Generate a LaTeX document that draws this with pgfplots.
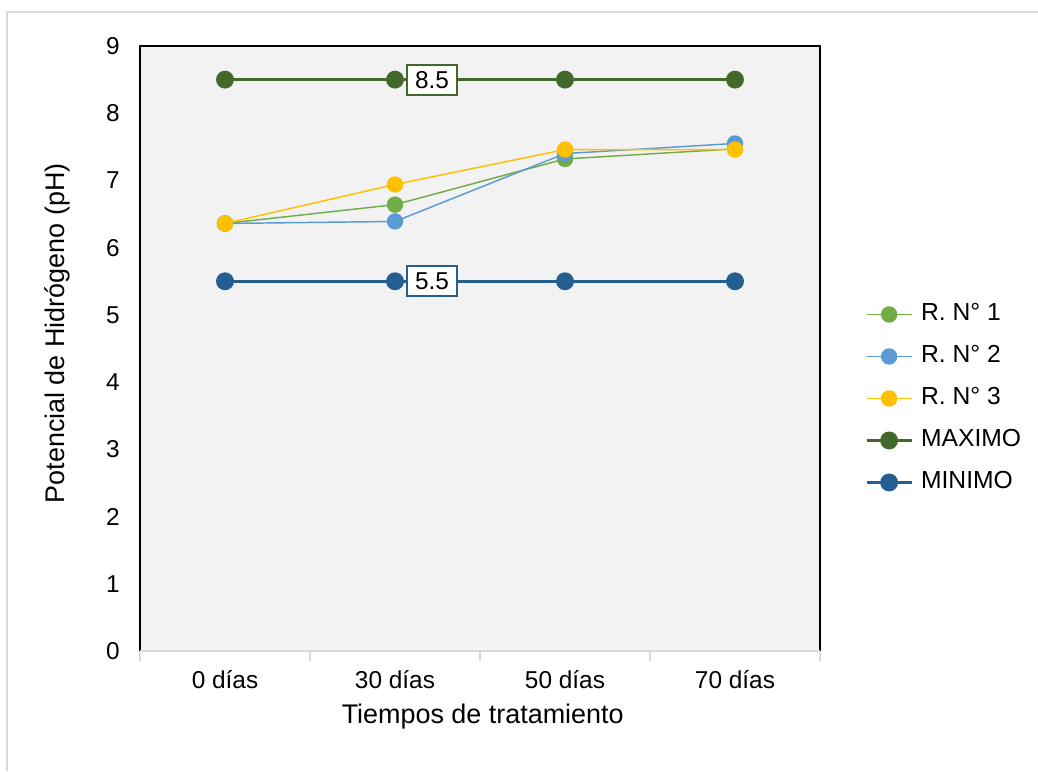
\documentclass[border=0pt]{standalone}
\usepackage{fontspec}
\setmainfont{Liberation Sans}
\usepackage{pgfplots}
\pgfplotsset{compat=1.18}

\definecolor{plotbg}{HTML}{F2F2F2}
\definecolor{axisgray}{HTML}{D9D9D9}
\definecolor{framegray}{HTML}{D9D9D9}
\definecolor{rone}{HTML}{70AD47}
\definecolor{rtwo}{HTML}{5B9BD5}
\definecolor{rthree}{HTML}{FFC000}
\definecolor{maxcol}{HTML}{43682B}
\definecolor{mincol}{HTML}{255E91}

\begin{document}
\begin{tikzpicture}
\path[use as bounding box] (0,0) rectangle (778.5pt,-578.25pt);
\draw[color=framegray, line width=1.3pt] (5.25pt,-578.25pt) -- (5.25pt,-9pt) -- (778.5pt,-9pt);
\begin{axis}[
  at={(105pt,-488.25pt)}, anchor=south west,
  scale only axis, width=510pt, height=453.75pt,
  clip=false,
  xmin=-0.5, xmax=3.5, ymin=0, ymax=9,
  xtick={0,1,2,3},
  xticklabels={0 días,30 días,50 días,70 días},
  ytick={0,1,...,9},
  major tick length=0pt,
  tick pos=left,
  extra x ticks={-0.5,0.5,1.5,2.5,3.5},
  extra x tick labels={},
  extra x tick style={major tick length=7.5pt, tick align=outside,
    tick style={draw=axisgray, line width=1pt}},
  axis line style={draw=none},
  axis background/.style={fill=plotbg},
  /pgf/number format/assume math mode=true,
  tick label style={font=\fontsize{18.3}{22}\selectfont},
  xticklabel style={anchor=center, yshift=-21.75pt},
  yticklabel style={anchor=east, inner sep=0pt, xshift=-15pt},
  xlabel={Tiempos de tratamiento},
  ylabel={Potencial de Hidrógeno (pH)},
  xlabel style={at={(axis description cs:0.504,-0.109)}, anchor=center,
    font=\fontsize{20.2}{24}\selectfont},
  ylabel style={at={(axis description cs:-0.122,0.525)}, anchor=center,
    font=\fontsize{20.2}{24}\selectfont},
  legend cell align=left,
  legend style={at={(axis description cs:1.066,0.4174)}, anchor=west,
    draw=none, fill=none, inner sep=0pt,
    font=\fontsize{18.5}{22}\selectfont,
    nodes={inner sep=0pt, text height=13pt, text depth=4pt},
    row sep=14.5pt, column sep=6pt},
  legend image code/.code={%
    \draw[mark repeat=2, mark phase=2, #1]
      plot coordinates {(0pt,0pt) (16.875pt,0pt) (33.75pt,0pt)};},
  every axis plot/.append style={mark=*, mark size=5.6pt},
]

% replicate measurements
\addplot[color=rone, line width=1.1pt, mark options={fill=rone, draw=rone}]
  coordinates {(0,6.36) (1,6.64) (2,7.32) (3,7.47)};
\addlegendentry{R. N° 1}
\addplot[color=rtwo, line width=1.1pt, mark options={fill=rtwo, draw=rtwo}]
  coordinates {(0,6.36) (1,6.39) (2,7.40) (3,7.55)};
\addlegendentry{R. N° 2}
\addplot[color=rthree, line width=1.1pt, mark options={fill=rthree, draw=rthree}]
  coordinates {(0,6.36) (1,6.94) (2,7.46) (3,7.46)};
\addlegendentry{R. N° 3}

% permissible limits
\addplot[color=maxcol, line width=2.2pt, mark options={fill=maxcol, draw=maxcol}]
  coordinates {(0,8.5) (1,8.5) (2,8.5) (3,8.5)};
\addlegendentry{MAXIMO}
\addplot[color=mincol, line width=2.2pt, mark options={fill=mincol, draw=mincol}]
  coordinates {(0,5.5) (1,5.5) (2,5.5) (3,5.5)};
\addlegendentry{MINIMO}

% value labels of the limits
\addplot[forget plot, draw=none, mark=none, nodes near coords,
  nodes near coords style={anchor=center, xshift=27.75pt, fill=white,
    draw=maxcol, line width=1.5pt, minimum width=37.5pt, minimum height=22.5pt,
    inner sep=2pt, font=\fontsize{18.3}{22}\selectfont}]
  coordinates {(1,8.5)};
\addplot[forget plot, draw=none, mark=none, nodes near coords,
  nodes near coords style={anchor=center, xshift=27.75pt, fill=white,
    draw=mincol, line width=1.5pt, minimum width=37.5pt, minimum height=22.5pt,
    inner sep=2pt, font=\fontsize{18.3}{22}\selectfont}]
  coordinates {(1,5.5)};

% plot area frame
\draw[black, line width=1.5pt] (rel axis cs:0,0) -- (rel axis cs:0,1)
  -- (rel axis cs:1,1) -- (rel axis cs:1,0);
\draw[axisgray, line width=1.5pt] (rel axis cs:0,0) -- (rel axis cs:1,0);
\end{axis}
\end{tikzpicture}
\end{document}
